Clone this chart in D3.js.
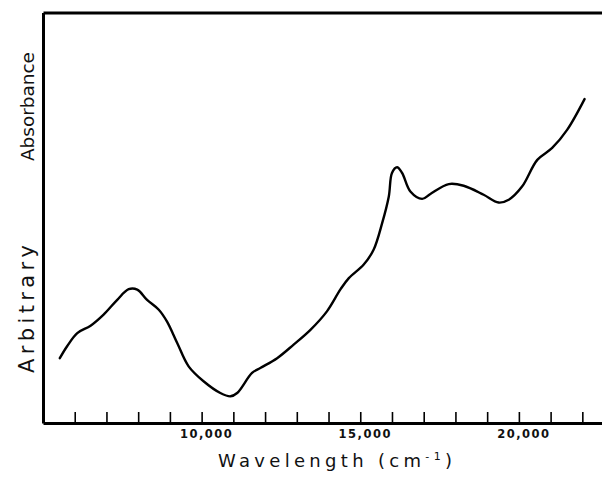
<!DOCTYPE html>
<html>
<head>
<meta charset="utf-8">
<script src="https://cdn.jsdelivr.net/npm/d3@7"></script>
<style>
  body { margin: 0; background: #fff; }
  svg { display: block; }
</style>
</head>
<body>
<div id="chart"></div>
<script>
// wavenumber (cm-1)
const wavenumber = [5530, 5760, 6080, 6500, 6910, 7340, 7700, 7970, 8280, 8650, 8910, 9230,
  9590, 10070, 10590, 10910, 11120, 11590, 11850, 12380, 12900, 13430, 13950, 14380,
  14640, 15110, 15420, 15690, 15900, 16000, 16160, 16320, 16580, 16950, 17210, 17790,
  18260, 18890, 19360, 19680, 20100, 20580, 21050, 21520, 22070];
// arbitrary absorbance (0 = bottom axis, 1 = top frame)
const absorbance = [0.158, 0.187, 0.219, 0.237, 0.264, 0.300, 0.326, 0.325, 0.300, 0.276, 0.247, 0.195,
  0.138, 0.101, 0.073, 0.065, 0.073, 0.122, 0.134, 0.158, 0.191, 0.227, 0.272, 0.326,
  0.353, 0.386, 0.422, 0.487, 0.552, 0.609, 0.623, 0.609, 0.564, 0.546, 0.558, 0.582,
  0.578, 0.556, 0.537, 0.544, 0.576, 0.641, 0.670, 0.714, 0.789];
const tickValues = d3.range(6000, 22001, 1000);
const labelledTicks = [10000, 15000, 20000];

const width = 602, height = 484;
const margin = { top: 12.5, right: 0, bottom: 61, left: 43 };

const svg = d3.select("#chart").append("svg")
  .attr("width", width)
  .attr("height", height);

const x = d3.scaleLinear()
  .domain([5000, 22620])
  .range([margin.left, width - margin.right]);

const y = d3.scaleLinear()
  .domain([0, 1])
  .range([height - margin.bottom, margin.top]);

const data = wavenumber.map((w, i) => ({ w, a: absorbance[i] }));

// bottom axis, ticks pointing inward
const xAxis = svg.append("g")
  .attr("transform", `translate(0,${height - margin.bottom})`)
  .call(d3.axisBottom(x)
    .tickValues(tickValues)
    .tickSizeInner(-11)
    .tickSizeOuter(0)
    .tickFormat(d => labelledTicks.includes(d) ? d3.format(",")(d) : ""));

xAxis.select(".domain").attr("stroke-width", 3);
xAxis.selectAll(".tick line").attr("stroke-width", 1.6);
xAxis.selectAll(".tick text")
  .attr("y", 15)
  .attr("dy", 0)
  .attr("dx", 4.5)
  .attr("font-family", "DejaVu Sans")
  .attr("font-weight", "bold")
  .attr("font-size", 11.5)
  .attr("letter-spacing", 1.5)
  .attr("fill", "#111");

// left axis and top frame, no ticks
svg.append("g")
  .attr("transform", `translate(${margin.left},0)`)
  .call(d3.axisLeft(y).tickValues([]).tickSizeOuter(0))
  .select(".domain").attr("stroke-width", 3);

svg.append("g")
  .attr("transform", `translate(0,${margin.top})`)
  .call(d3.axisTop(x).tickValues([]).tickSizeOuter(0))
  .select(".domain").attr("stroke-width", 3);

// spectrum
const line = d3.line()
  .x(d => x(d.w))
  .y(d => y(d.a))
  .curve(d3.curveCatmullRom.alpha(0.5));

svg.append("path")
  .datum(data)
  .attr("fill", "none")
  .attr("stroke", "#000")
  .attr("stroke-width", 2.4)
  .attr("stroke-linejoin", "round")
  .attr("stroke-linecap", "round")
  .attr("d", line);

// x title
const xt = svg.append("text")
  .attr("x", 218)
  .attr("y", 467)
  .attr("font-family", "DejaVu Sans")
  .attr("font-size", 18)
  .attr("fill", "#111")
  .attr("textLength", 234)
  .attr("lengthAdjust", "spacing");
xt.append("tspan").text("Wavelength  (cm");
xt.append("tspan").attr("font-size", 11).attr("dy", -7).text("-1");
xt.append("tspan").attr("dy", 7).text(")");

// y title, two words
svg.append("text")
  .attr("transform", "translate(33.5,373) rotate(-90)")
  .attr("font-family", "DejaVu Sans")
  .attr("font-size", 21)
  .attr("fill", "#111")
  .attr("textLength", 128)
  .attr("lengthAdjust", "spacing")
  .text("Arbitrary");

svg.append("text")
  .attr("transform", "translate(33.5,161) rotate(-90)")
  .attr("font-family", "DejaVu Sans")
  .attr("font-size", 18.5)
  .attr("fill", "#111")
  .attr("textLength", 109)
  .attr("lengthAdjust", "spacing")
  .text("Absorbance");
</script>
</body>
</html>
